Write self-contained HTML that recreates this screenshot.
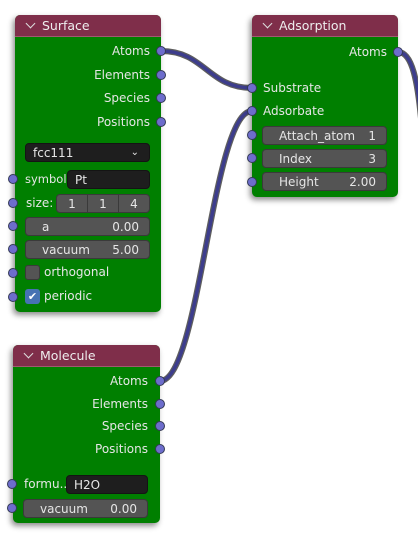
<!DOCTYPE html>
<html><head><meta charset="utf-8"><style>
*{box-sizing:border-box;margin:0;padding:0}
body{width:418px;height:535px;background:#fff;position:relative;overflow:hidden;font-family:"DejaVu Sans","Liberation Sans",sans-serif;font-size:12px;color:#e6e6e6}
.node{position:absolute;background:#007f00;border-radius:5px;box-shadow:-2px 3px 6px rgba(0,0,0,.45)}
.hdr{position:absolute;left:0;top:0;right:0;height:22px;background:#7f2e4a;border-radius:5px 5px 0 0;border-bottom:1px solid #a05a70;padding-left:10px;line-height:21px;font-size:12.5px;color:#eee}
.hdr .chev{display:inline-block;width:7px;height:7px;border-right:1.3px solid #ddd;border-bottom:1.3px solid #ddd;transform:rotate(45deg);margin:0 8px 3px 2px}
.sock{position:absolute;width:10px;height:10px;border-radius:50%;background:#6d6dcc;border:1px solid #333a55}
.lbl{position:absolute;white-space:nowrap;line-height:14px}
.r{text-align:right}
.fld{position:absolute;background:#545454;border:1px solid #3a3a3a;border-radius:4px;height:19px;line-height:18px;padding:0 10px;color:#e6e6e6;font-size:12px}
.fld span{float:right}
.dark{background:#1e1e1e;border-color:#141414;padding-left:7px}
svg{position:absolute;left:0;top:0}
</style></head><body>
<svg width="418" height="535">
<g fill="none" stroke-linecap="round">
<path d="M161 51 C205 51 208 88 252 88" stroke="#1a1a1a" stroke-width="6" opacity=".7"/>
<path d="M161 51 C205 51 208 88 252 88" stroke="#3d3d8c" stroke-width="3.5"/>
<path d="M160 381 C200 381 212 111 252 111" stroke="#1a1a1a" stroke-width="6" opacity=".7"/>
<path d="M160 381 C200 381 212 111 252 111" stroke="#3d3d8c" stroke-width="3.5"/>
<path d="M398 52 C412 52 418 80 422 130" stroke="#1a1a1a" stroke-width="6" opacity=".7"/>
<path d="M398 52 C412 52 418 80 422 130" stroke="#3d3d8c" stroke-width="3.5"/>
</g></svg>

<!-- Surface -->
<div class="node" style="left:15px;top:15px;width:146px;height:297px">
<div class="hdr"><span class="chev"></span>Surface</div>
</div>
<div class="lbl r" style="left:60px;width:90px;top:44px">Atoms</div>
<div class="lbl r" style="left:60px;width:90px;top:68px">Elements</div>
<div class="lbl r" style="left:60px;width:90px;top:91px">Species</div>
<div class="lbl r" style="left:60px;width:90px;top:115px">Positions</div>
<div class="sock" style="left:156px;top:46px"></div>
<div class="sock" style="left:156px;top:70px"></div>
<div class="sock" style="left:156px;top:93px"></div>
<div class="sock" style="left:156px;top:117px"></div>
<div class="fld dark" style="left:25px;top:143px;width:125px;padding-left:7px">fcc111<span style="font-size:10px">&#8964;</span></div>
<div class="lbl" style="left:25px;top:172px;font-size:11.5px">symbol</div>
<div class="fld dark" style="left:67px;top:170px;width:83px">Pt</div>
<div class="lbl" style="left:26px;top:196px">size:</div>
<div class="fld" style="left:56px;top:194px;width:32px;border-radius:4px 0 0 4px;text-align:center;padding:0">1</div>
<div class="fld" style="left:87px;top:194px;width:32px;border-radius:0;text-align:center;padding:0">1</div>
<div class="fld" style="left:118px;top:194px;width:32px;border-radius:0 4px 4px 0;text-align:center;padding:0">4</div>
<div class="fld" style="left:25px;top:217px;width:125px;padding-left:16px">a<span>0.00</span></div>
<div class="fld" style="left:25px;top:240px;width:125px;padding-left:16px">vacuum<span>5.00</span></div>
<div style="position:absolute;left:25px;top:265px;width:15px;height:15px;background:#545454;border:1px solid #3a3a3a;border-radius:3px"></div>
<div class="lbl" style="left:44px;top:265px">orthogonal</div>
<div style="position:absolute;left:25px;top:289px;width:15px;height:15px;background:#4772b3;border-radius:3px;color:#fff;font-size:11px;line-height:15px;text-align:center">&#10004;</div>
<div class="lbl" style="left:44px;top:289px">periodic</div>
<div class="sock" style="left:8px;top:174px"></div>
<div class="sock" style="left:8px;top:198px"></div>
<div class="sock" style="left:8px;top:221px"></div>
<div class="sock" style="left:8px;top:244px"></div>
<div class="sock" style="left:8px;top:268px"></div>
<div class="sock" style="left:8px;top:292px"></div>

<!-- Adsorption -->
<div class="node" style="left:252px;top:15px;width:146px;height:182px">
<div class="hdr"><span class="chev"></span>Adsorption</div>
</div>
<div class="lbl r" style="left:290px;width:97px;top:45px">Atoms</div>
<div class="sock" style="left:393px;top:47px"></div>
<div class="lbl" style="left:263px;top:81px">Substrate</div>
<div class="lbl" style="left:263px;top:104px">Adsorbate</div>
<div class="sock" style="left:247px;top:83px"></div>
<div class="sock" style="left:247px;top:106px"></div>
<div class="fld" style="left:262px;top:126px;width:125px;padding-left:16px">Attach_atom<span>1</span></div>
<div class="fld" style="left:262px;top:149px;width:125px;padding-left:16px">Index<span>3</span></div>
<div class="fld" style="left:262px;top:172px;width:125px;padding-left:16px">Height<span>2.00</span></div>
<div class="sock" style="left:247px;top:130px"></div>
<div class="sock" style="left:247px;top:153px"></div>
<div class="sock" style="left:247px;top:177px"></div>

<!-- Molecule -->
<div class="node" style="left:13px;top:345px;width:147px;height:178px">
<div class="hdr"><span class="chev"></span>Molecule</div>
</div>
<div class="lbl r" style="left:58px;width:90px;top:374px">Atoms</div>
<div class="lbl r" style="left:58px;width:90px;top:397px">Elements</div>
<div class="lbl r" style="left:58px;width:90px;top:419px">Species</div>
<div class="lbl r" style="left:58px;width:90px;top:442px">Positions</div>
<div class="sock" style="left:155px;top:376px"></div>
<div class="sock" style="left:155px;top:399px"></div>
<div class="sock" style="left:155px;top:421px"></div>
<div class="sock" style="left:155px;top:444px"></div>
<div class="lbl" style="left:24px;top:477px">formu...</div>
<div class="fld dark" style="left:66px;top:475px;width:82px">H2O</div>
<div class="fld" style="left:23px;top:499px;width:125px;padding-left:16px">vacuum<span>0.00</span></div>
<div class="sock" style="left:7px;top:479px"></div>
<div class="sock" style="left:7px;top:503px"></div>
</body></html>
